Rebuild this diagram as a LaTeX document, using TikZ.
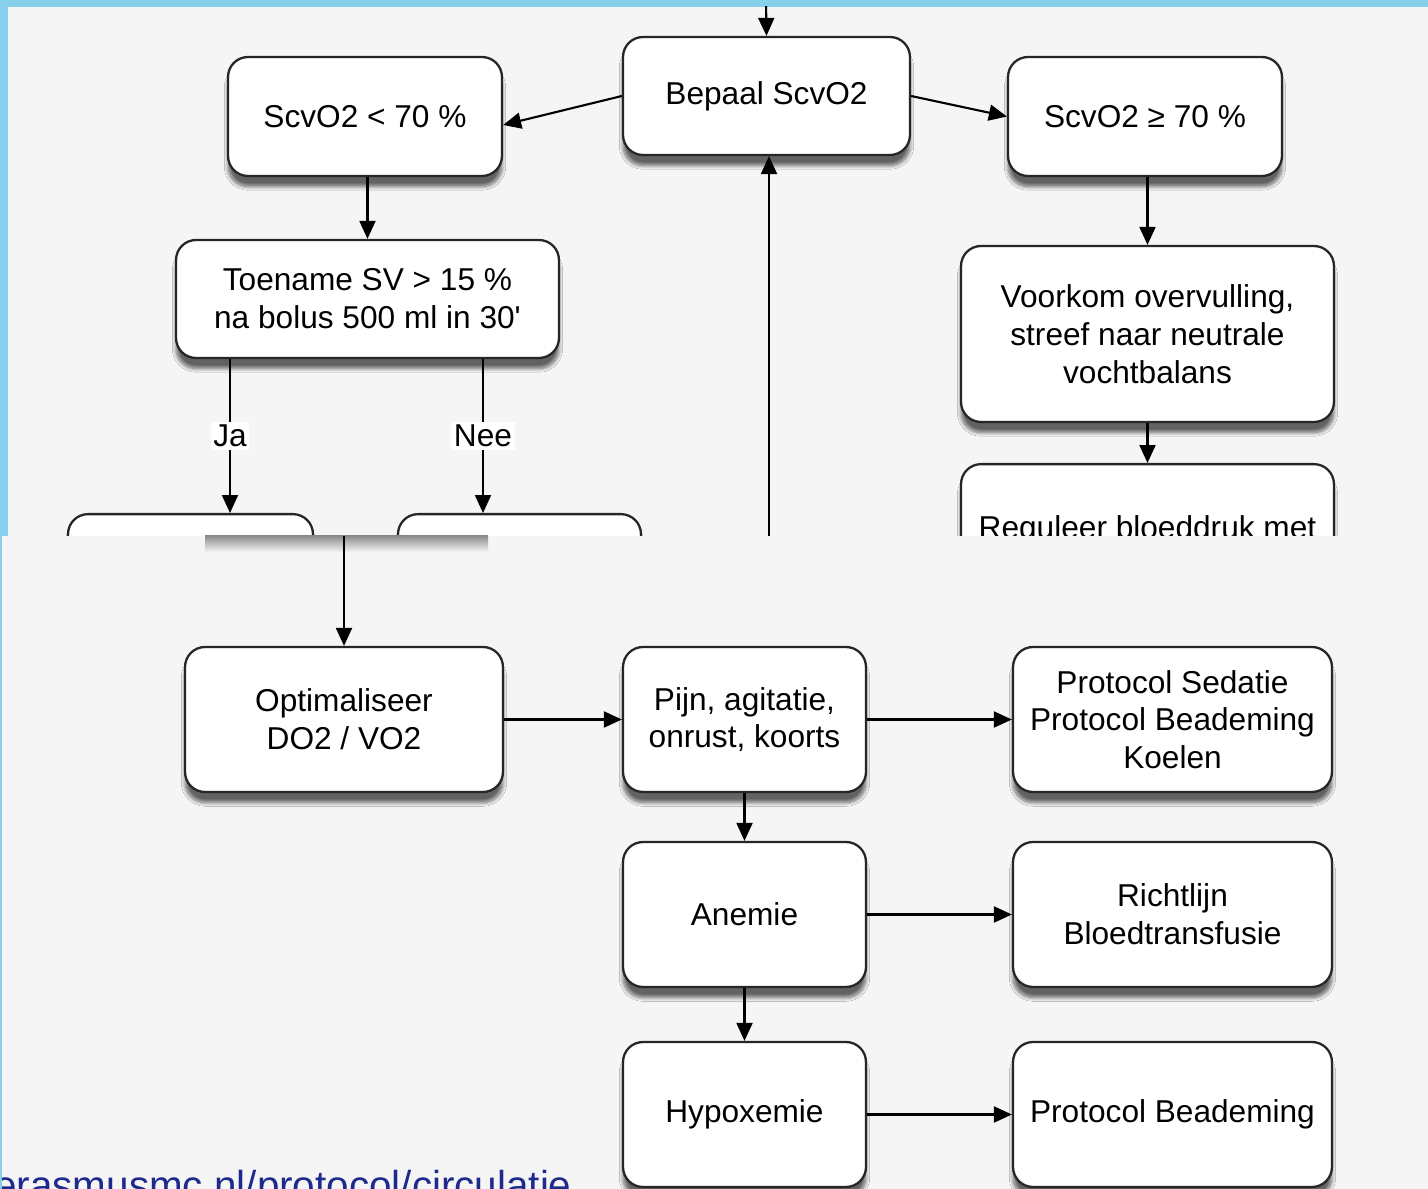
\documentclass[tikz,border=0pt]{standalone}
\usepackage{fontspec}
\setmainfont{Liberation Sans}[Ligatures=TeXOff]
\usetikzlibrary{positioning,arrows.meta,shadows.blur}
\definecolor{skyband}{RGB}{134,208,236}
\definecolor{panel}{RGB}{245,245,245}
\definecolor{linkblue}{RGB}{30,42,140}

\begin{document}
\begin{tikzpicture}[x=0.02cm, y=-0.02cm,
  box/.style={draw=black!85, line width=1.3pt, fill=white, rounded corners=0.4cm,
    align=center, font=\fontsize{18}{21.5}\selectfont,
    blur shadow={shadow xshift=0pt, shadow yshift=-6pt, shadow opacity=60, shadow blur steps=8}},
  pijl/.style={line width=1.2pt, -{Triangle[length=0.36cm,width=0.32cm]}},
  lbl/.style={fill=white, inner sep=1.5pt, font=\fontsize{18}{21.5}\selectfont}]
  \useasboundingbox (0,0) rectangle (1428,1189);
  \clip (0,0) rectangle (1428,1189);
  \fill[skyband] (0,0) rectangle (1428,1189);

  % upper panel
  \fill[panel] (8,7) rectangle (1428,536);
  \begin{scope}
    \clip (8,7) rectangle (1428,536);
    \node[box, minimum width=5.74cm, minimum height=2.36cm] (bepaal) at (766.5,96) {Bepaal ScvO2};
    \node[box, minimum width=5.48cm, minimum height=2.38cm] (laag) at (365,116.5) {ScvO2 < 70 \%};
    \node[box, minimum width=5.48cm, minimum height=2.38cm] (hoog) at (1145,116.5) {ScvO2 ≥ 70 \%};
    \node[box, minimum width=7.66cm, minimum height=2.36cm] (toename) at (367.5,299) {Toename SV > 15 \%\\na bolus 500 ml in 30'};
    \node[box, minimum width=7.46cm, minimum height=3.52cm] (voorkom) at (1147.5,334) {Voorkom overvulling,\\streef naar neutrale\\vochtbalans};
    \node[box, anchor=north, minimum width=7.46cm, minimum height=3.52cm] (reguleer) at (1147.5,463) {};
    \node[anchor=base, font=\fontsize{18}{21.5}\selectfont] (reguleertxt) at (1147.5,539) {Reguleer bloeddruk met};
    \node[box, anchor=north, minimum width=4.9cm, minimum height=2.9cm] (ja) at (190.5,513) {};
    \node[box, anchor=north, minimum width=4.86cm, minimum height=2.9cm] (nee) at (519.5,513) {};
    \coordinate (binnen) at (766,0);
    \coordinate (jax) at (230,0);
    \coordinate (neex) at (483,0);
    \coordinate (terug) at (769,536);
    % arrows
    \draw[pijl] (binnen) -- (bepaal.north);
    \draw[pijl] (bepaal.west) -- ([yshift=-0.17cm]laag.east);
    \draw[pijl] (bepaal.east) -- (hoog.west);
    \draw[pijl] (laag.south -| toename.north) -- (toename.north);
    \draw[pijl] (toename.south -| jax) -- node[lbl] {Ja} (ja.north -| jax);
    \draw[pijl] (toename.south -| neex) -- node[lbl] {Nee} (nee.north -| neex);
    \draw[pijl] (terug) -- (terug |- bepaal.south);
    \draw[pijl] (hoog.south -| voorkom.north) -- (voorkom.north);
    \draw[pijl] (voorkom.south) -- (reguleer.north);
  \end{scope}

  % lower panel
  \fill[panel] (2,536) rectangle (1428,1189);
  \shade[top color=black!45, bottom color=panel] (205,536) rectangle (488,552);
  \node[box, minimum width=6.36cm, minimum height=2.9cm] (optim) at (344,719.5) {Optimaliseer\\DO2 / VO2};
  \node[box, minimum width=4.86cm, minimum height=2.9cm] (pijn) at (744.5,719.5) {Pijn, agitatie,\\onrust, koorts};
  \node[box, minimum width=6.38cm, minimum height=2.9cm] (sedatie) at (1172.5,719.5) {Protocol Sedatie\\Protocol Beademing\\Koelen};
  \node[box, minimum width=4.86cm, minimum height=2.9cm] (anemie) at (744.5,914.5) {Anemie};
  \node[box, minimum width=6.38cm, minimum height=2.9cm] (transfusie) at (1172.5,914.5) {Richtlijn\\Bloedtransfusie};
  \node[box, minimum width=4.86cm, minimum height=2.9cm] (hypox) at (744.5,1114.5) {Hypoxemie};
  \node[box, minimum width=6.38cm, minimum height=2.9cm] (beademing) at (1172.5,1114.5) {Protocol Beademing};
  \coordinate (boven) at (344,536);
  % arrows
  \draw[pijl] (boven) -- (optim.north);
  \draw[pijl] (optim.east) -- (pijn.west);
  \draw[pijl] (pijn.east) -- (sedatie.west);
  \draw[pijl] (pijn.south) -- (anemie.north);
  \draw[pijl] (anemie.east) -- (transfusie.west);
  \draw[pijl] (anemie.south) -- (hypox.north);
  \draw[pijl] (hypox.east) -- (beademing.west);
  % link
  \node[anchor=base west, inner sep=0pt, text=linkblue, font=\fontsize{23}{27}\selectfont] (link) at (-6,1199) {erasmusmc.nl/protocol/circulatie};
  \fill[skyband] (0,536) rectangle (2,1189);
\end{tikzpicture}
\end{document}
